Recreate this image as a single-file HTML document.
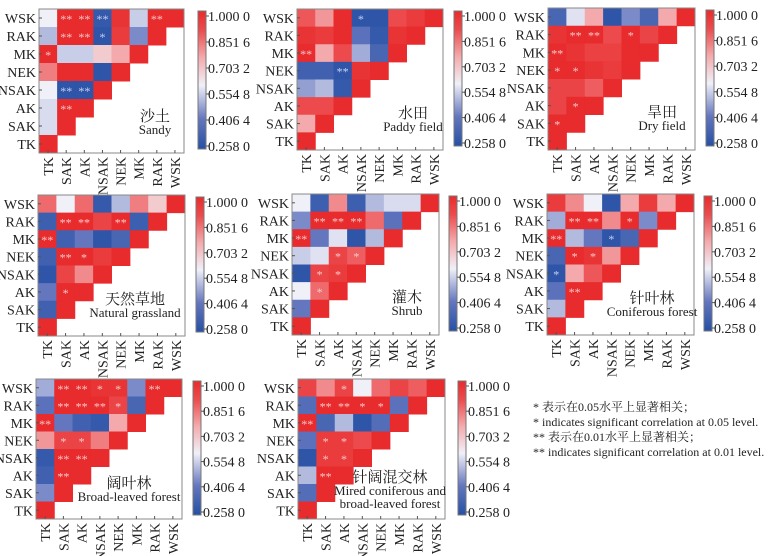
<!DOCTYPE html>
<html><head><meta charset="utf-8">
<style>
body{margin:0;background:#fff;}
svg{display:block;font-family:"Liberation Serif","Noto Serif CJK SC",serif;}
</style></head>
<body>
<svg id="chart" width="775" height="556" viewBox="0 0 775 556" xmlns="http://www.w3.org/2000/svg"></svg>
<script>
const labels = ["TK","SAK","AK","NSAK","NEK","MK","RAK","WSK"];
const tickValues = [1.0, 0.8516, 0.7032, 0.5548, 0.4064, 0.258];
const tickLabels = ["1.000 0","0.851 6","0.703 2","0.554 8","0.406 4","0.258 0"];
// rows listed top (WSK) to bottom (TK)
const sandyVals = [[0.60,1,1,0.30,0.97,0.55,1,1],[0.52,1,1,0.28,0.95,0.45,1],[1,0.55,0.55,0.68,0.75,1],[0.82,1,1,0.28,1],[0.60,0.28,0.28,1],[0.57,1,1],[0.57,1],[1]];
const sandyStars = [["","**","**","**","","","**",""],["","**","**","*","","",""],["*","","","","",""],["","","","",""],["","**","**",""],["","**",""],["",""],[""]];
const paddyVals = [[0.88,0.78,1,0.28,0.28,0.90,0.95,1],[0.97,0.95,1,0.40,0.30,0.97,1],[1,0.75,0.90,0.50,0.35,1],[0.33,0.33,0.28,0.97,1],[0.48,0.52,0.30,1],[0.90,0.90,1],[0.75,1],[1]];
const paddyStars = [["","","","*","","","",""],["","","","","","",""],["**","","","","",""],["","","**","",""],["","","",""],["","",""],["",""],[""]];
const dryVals = [[0.35,0.58,0.75,0.28,0.45,0.35,0.75,1],[0.97,1,1,0.90,1,0.92,1],[1,0.97,0.93,0.93,1,1],[1,1,0.97,0.95,1],[0.92,0.92,0.87,1],[0.92,1,1],[1,1],[1]];
const dryStars = [["","","","","","","",""],["","**","**","","*","",""],["**","","","","",""],["*","*","","",""],["","","",""],["","*",""],["*",""],[""]];
const grassVals = [[0.85,0.60,0.85,0.30,0.52,0.82,0.68,1],[0.32,1,1,0.92,1,0.32,1],[1,0.33,0.42,0.28,0.35,1],[0.33,1,1,0.95,1],[0.28,0.92,0.80,1],[0.42,1,1],[0.33,1],[1]];
const grassStars = [["","","","","","","",""],["","**","**","","**","",""],["**","","","","",""],["","**","*","",""],["","","",""],["","*",""],["",""],[""]];
const shrubVals = [[0.60,0.32,0.80,0.32,0.52,0.57,0.57,1],[0.45,1,1,1,0.85,0.40,1],[1,0.42,0.58,0.28,0.52,1],[0.55,0.58,0.92,0.87,1],[0.28,0.92,0.95,1],[0.60,0.85,1],[0.42,1],[1]];
const shrubStars = [["","","","","","","",""],["","**","**","**","","",""],["**","","","","",""],["","","*","*",""],["","*","*",""],["","*",""],["",""],[""]];
const conifVals = [[0.95,0.80,0.60,0.28,0.75,0.95,0.75,1],[0.50,1,1,0.80,1,0.45,1],[1,0.52,0.42,0.28,0.35,1],[0.35,1,0.97,0.78,1],[0.28,0.75,0.88,1],[0.40,1,1],[0.52,1],[1]];
const conifStars = [["","","","","","","",""],["","**","**","","*","",""],["**","","","*","",""],["","*","*","",""],["*","","",""],["","**",""],["",""],[""]];
const broadVals = [[0.50,1,1,0.97,0.97,0.45,1,1],[0.40,1,1,1,0.92,0.35,1],[1,0.42,0.33,0.30,0.75,1],[0.78,0.92,0.92,0.82,1],[0.30,1,1,1],[0.33,1,1],[0.45,1],[1]];
const broadStars = [["","**","**","*","*","","**",""],["","**","**","**","*","",""],["**","","","","",""],["","*","*","",""],["","**","**",""],["","**",""],["",""],[""]];
const mixedVals = [[0.92,0.80,0.92,0.60,0.85,0.92,0.87,1],[0.38,1,1,1,1,0.40,1],[1,0.35,0.52,0.28,0.38,1],[0.40,0.95,0.95,0.90,1],[0.28,0.95,0.95,1],[0.52,1,1],[0.38,1],[1]];
const mixedStars = [["","","*","","","","",""],["","**","**","*","*","",""],["**","","","","",""],["","*","*","",""],["","*","*",""],["","**",""],["",""],[""]];

const panels = [
 {name:"sandy",vals:sandyVals,stars:sandyStars,x:39,y:9,w:145,h:144,cb:198,lab:["沙土","Sandy"],lx:155,ly:121},
 {name:"paddy-field",vals:paddyVals,stars:paddyStars,x:297,y:9,w:146,h:141,cb:454,lab:["水田","Paddy field"],lx:413,ly:118},
 {name:"dry-field",vals:dryVals,stars:dryStars,x:548,y:8,w:147,h:142,cb:706,lab:["旱田","Dry field"],lx:662,ly:117},
 {name:"natural-grassland",vals:grassVals,stars:grassStars,x:38,y:195,w:147,h:141,cb:196,lab:["天然草地","Natural grassland"],lx:135,ly:304},
 {name:"shrub",vals:shrubVals,stars:shrubStars,x:292,y:194,w:147,h:141,cb:449,lab:["灌木","Shrub"],lx:407,ly:302},
 {name:"coniferous-forest",vals:conifVals,stars:conifStars,x:547,y:194,w:147,h:141,cb:704,lab:["针叶林","Coniferous forest"],lx:652,ly:303},
 {name:"broad-leaved-forest",vals:broadVals,stars:broadStars,x:36,y:379,w:146,h:140,cb:193,lab:["阔叶林","Broad-leaved forest"],lx:129,ly:488},
 {name:"mixed-forest",vals:mixedVals,stars:mixedStars,x:298,y:379,w:147,h:140,cb:458,lab:["针阔混交林","Mired coniferous and","broad-leaved forest"],lx:390,ly:482}
];

const stops=[[0.258,[37,80,165]],[0.42,[100,118,190]],[0.6,[240,240,248]],[0.75,[244,170,172]],[0.9,[236,74,76]],[1.0,[232,43,45]]];
function color(v){
  for(let i=1;i<stops.length;i++){
    if(v<=stops[i][0]){const a=stops[i-1],b=stops[i];const t=Math.max(0,(v-a[0])/(b[0]-a[0]));
      const c=a[1].map((x,k)=>Math.round(x+(b[1][k]-x)*t));return `rgb(${c})`;}
  }
  return `rgb(${stops[stops.length-1][1]})`;
}
const NS="http://www.w3.org/2000/svg";
const svg=document.getElementById('chart');
function el(tag,attrs,parent,text){const e=document.createElementNS(NS,tag);for(const k in attrs)e.setAttribute(k,attrs[k]);if(text!==undefined)e.textContent=text;(parent||svg).appendChild(e);return e;}

// gradient
const defs=el('defs',{});
const grad=el('linearGradient',{id:'cbgrad',x1:0,y1:1,x2:0,y2:0},defs);
stops.forEach(s=>{el('stop',{offset:((s[0]-0.258)/(1-0.258)),'stop-color':color(s[0])},grad);});

panels.forEach(p=>{
  const g=el('g',{});
  
  
  const cw=p.w/8,ch=p.h/8;
  const xs=i=>p.x+i*cw, ys=r=>p.y+r*ch;
  p.vals.forEach((row,r)=>{
    row.forEach((v,c)=>{
      const rect=el('rect',{x:xs(c),y:ys(r),width:cw+0.5,height:ch+0.5,fill:color(v)},g);
      
      
      const s=p.stars[r][c];
      if(s){const t=el('text',{x:xs(c)+cw/2,y:ys(r)+ch/2+5,'text-anchor':'middle','font-size':12,fill:v>0.6?'#f8c8c8':'#c8d0f0'},g,s);
        
        }
    });
  });
  el('rect',{x:p.x,y:p.y,width:p.w,height:p.h,fill:'none',stroke:'#888','stroke-width':1},g);
  // y labels
  for(let r=0;r<8;r++){
    const yy=ys(r)+ch/2;
    el('line',{x1:p.x,x2:p.x+3,y1:yy,y2:yy,stroke:'#555'},g);
    const t=el('text',{x:p.x-3,y:yy+5,'text-anchor':'end','font-size':14,fill:'#222'},g,labels[7-r]);
    
    
  }
  for(let c=0;c<8;c++){
    const xx=xs(c)+cw/2;
    el('line',{x1:xx,x2:xx,y1:p.y+p.h,y2:p.y+p.h-3,stroke:'#555'},g);
    const t=el('text',{x:0,y:0,'text-anchor':'end','font-size':14,fill:'#222',transform:`translate(${xx+5},${p.y+p.h+4}) rotate(-90)`},g,labels[c]);
    
    
  }
  // colorbar
  const cbTop=p.y+2,cbBot=p.y+p.h-4;
  const cb=el('rect',{x:p.cb,y:cbTop,width:8,height:cbBot-cbTop,fill:'url(#cbgrad)',stroke:'#777','stroke-width':1},g);
  
  
  const vy=v=>cbBot-3-(v-0.258)/(1-0.258)*(cbBot-cbTop-8);
  tickValues.forEach((v,i)=>{
    const yy=vy(v);
    el('line',{x1:p.cb+8,x2:p.cb+11,y1:yy,y2:yy,stroke:'#555'},g);
    const t=el('text',{x:p.cb+10,y:yy+5,'font-size':14,fill:'#222'},g,tickLabels[i]);
    
    
  });
  p.lab.forEach((s,i)=>{
    const t=el('text',{x:p.lx,y:p.ly+i*(i===0?16:13)+(i>1?0:0),'text-anchor':'middle','font-size':i===0?15:13,fill:'#222'},g,s);
    
    
  });
});
const notes=["* 表示在0.05水平上显著相关；","* indicates significant correlation at 0.05 level.","** 表示在0.01水平上显著相关；","** indicates significant correlation at 0.01 level."];
notes.forEach((s,i)=>{
  const t=el('text',{x:533,y:411+i*15,'font-size':12,fill:'#222'},svg,s);
  
  
});
</script>
</body></html>
